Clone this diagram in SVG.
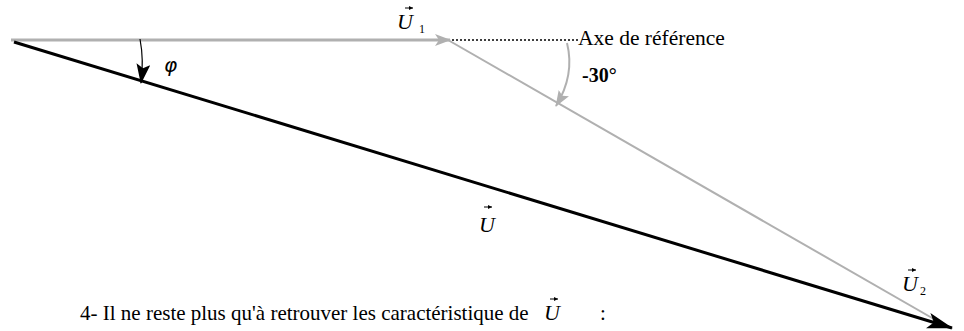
<svg xmlns="http://www.w3.org/2000/svg" width="964" height="331" viewBox="0 0 964 331" font-family="Liberation Serif, Times New Roman, serif">
<style>
.t{font-family:'Liberation Serif','Times New Roman',serif;fill:#000}
.it{font-style:italic}
.gray{stroke:#b0b0b0;fill:none}
.vl{stroke:#000;stroke-width:1}
</style>
<defs>
<marker id="ag" markerWidth="16" markerHeight="12" refX="15" refY="6" orient="auto" markerUnits="userSpaceOnUse"><path d="M0,0 L16,6 L0,12 L4,6 Z" fill="#b0b0b0"/></marker>
<marker id="ab" markerWidth="26" markerHeight="16" refX="25" refY="8" orient="auto" markerUnits="userSpaceOnUse"><path d="M0,0 L26,8 L0,16 L6,8 Z" fill="#000"/></marker>
<marker id="as" markerWidth="20" markerHeight="14" refX="19" refY="7" orient="auto" markerUnits="userSpaceOnUse"><path d="M0,0 L20,7 L0,14 L4,7 Z" fill="#000"/></marker>
<marker id="asg" markerWidth="16" markerHeight="12" refX="15" refY="6" orient="auto" markerUnits="userSpaceOnUse"><path d="M0,0 L16,6 L0,12 L3,6 Z" fill="#b0b0b0"/></marker>
<marker id="vec" markerWidth="4" markerHeight="4" refX="4" refY="2" orient="auto" markerUnits="userSpaceOnUse"><path d="M0,0 L4,2 L0,4 Z" fill="#000"/></marker>
</defs>
<g id="connectors">
<line id="u1" x1="11" y1="40" x2="450" y2="40" class="gray" stroke-width="3" marker-end="url(#ag)"/>
<line id="u2" x1="448" y1="40" x2="946" y2="326" class="gray" stroke-width="2"/>
<line id="u" x1="14" y1="42" x2="952" y2="328" stroke="#000" stroke-width="3" marker-end="url(#ab)"/>
<line id="ref" x1="452" y1="40" x2="578" y2="40" stroke="#000" stroke-width="1.5" stroke-dasharray="2,2"/>
<path id="phi-arc" d="M140,39 Q144,60 141,83" stroke="#000" stroke-width="1.2" fill="none" marker-end="url(#as)"/>
<path id="deg-arc" d="M567,43 Q575,75 556,106" class="gray" stroke-width="2" marker-end="url(#asg)"/>
</g>
<g id="label-u1">
<text x="397" y="29" class="t it" font-size="22">U</text>
<text x="419" y="33" class="t" font-size="12">1</text>
<line x1="405" y1="8" x2="413" y2="8" class="vl" marker-end="url(#vec)"/>
</g>
<g id="label-ref"><text x="578" y="45" class="t" font-size="21.5">Axe de référence</text></g>
<g id="label-30"><text x="582" y="82" class="t" font-size="20" font-weight="bold">-30°</text></g>
<g id="label-phi"><text x="164" y="72" font-size="20" font-style="italic" font-family="DejaVu Sans, sans-serif">φ</text></g>
<g id="label-u">
<text x="479" y="232" class="t it" font-size="22">U</text>
<line x1="484" y1="207" x2="492" y2="207" class="vl" marker-end="url(#vec)"/>
</g>
<g id="label-u2">
<text x="902" y="291" class="t it" font-size="22">U</text>
<text x="920" y="295" class="t" font-size="12">2</text>
<line x1="908" y1="270" x2="916" y2="270" class="vl" marker-end="url(#vec)"/>
</g>
<g id="caption">
<text x="80" y="320" class="t" font-size="21">4- Il ne reste plus qu'à retrouver les caractéristique de</text>
<text x="544" y="320" class="t it" font-size="22">U</text>
<line x1="550" y1="299" x2="558" y2="299" class="vl" marker-end="url(#vec)"/>
<text x="600" y="320" class="t" font-size="21">:</text>
</g>
</svg>
